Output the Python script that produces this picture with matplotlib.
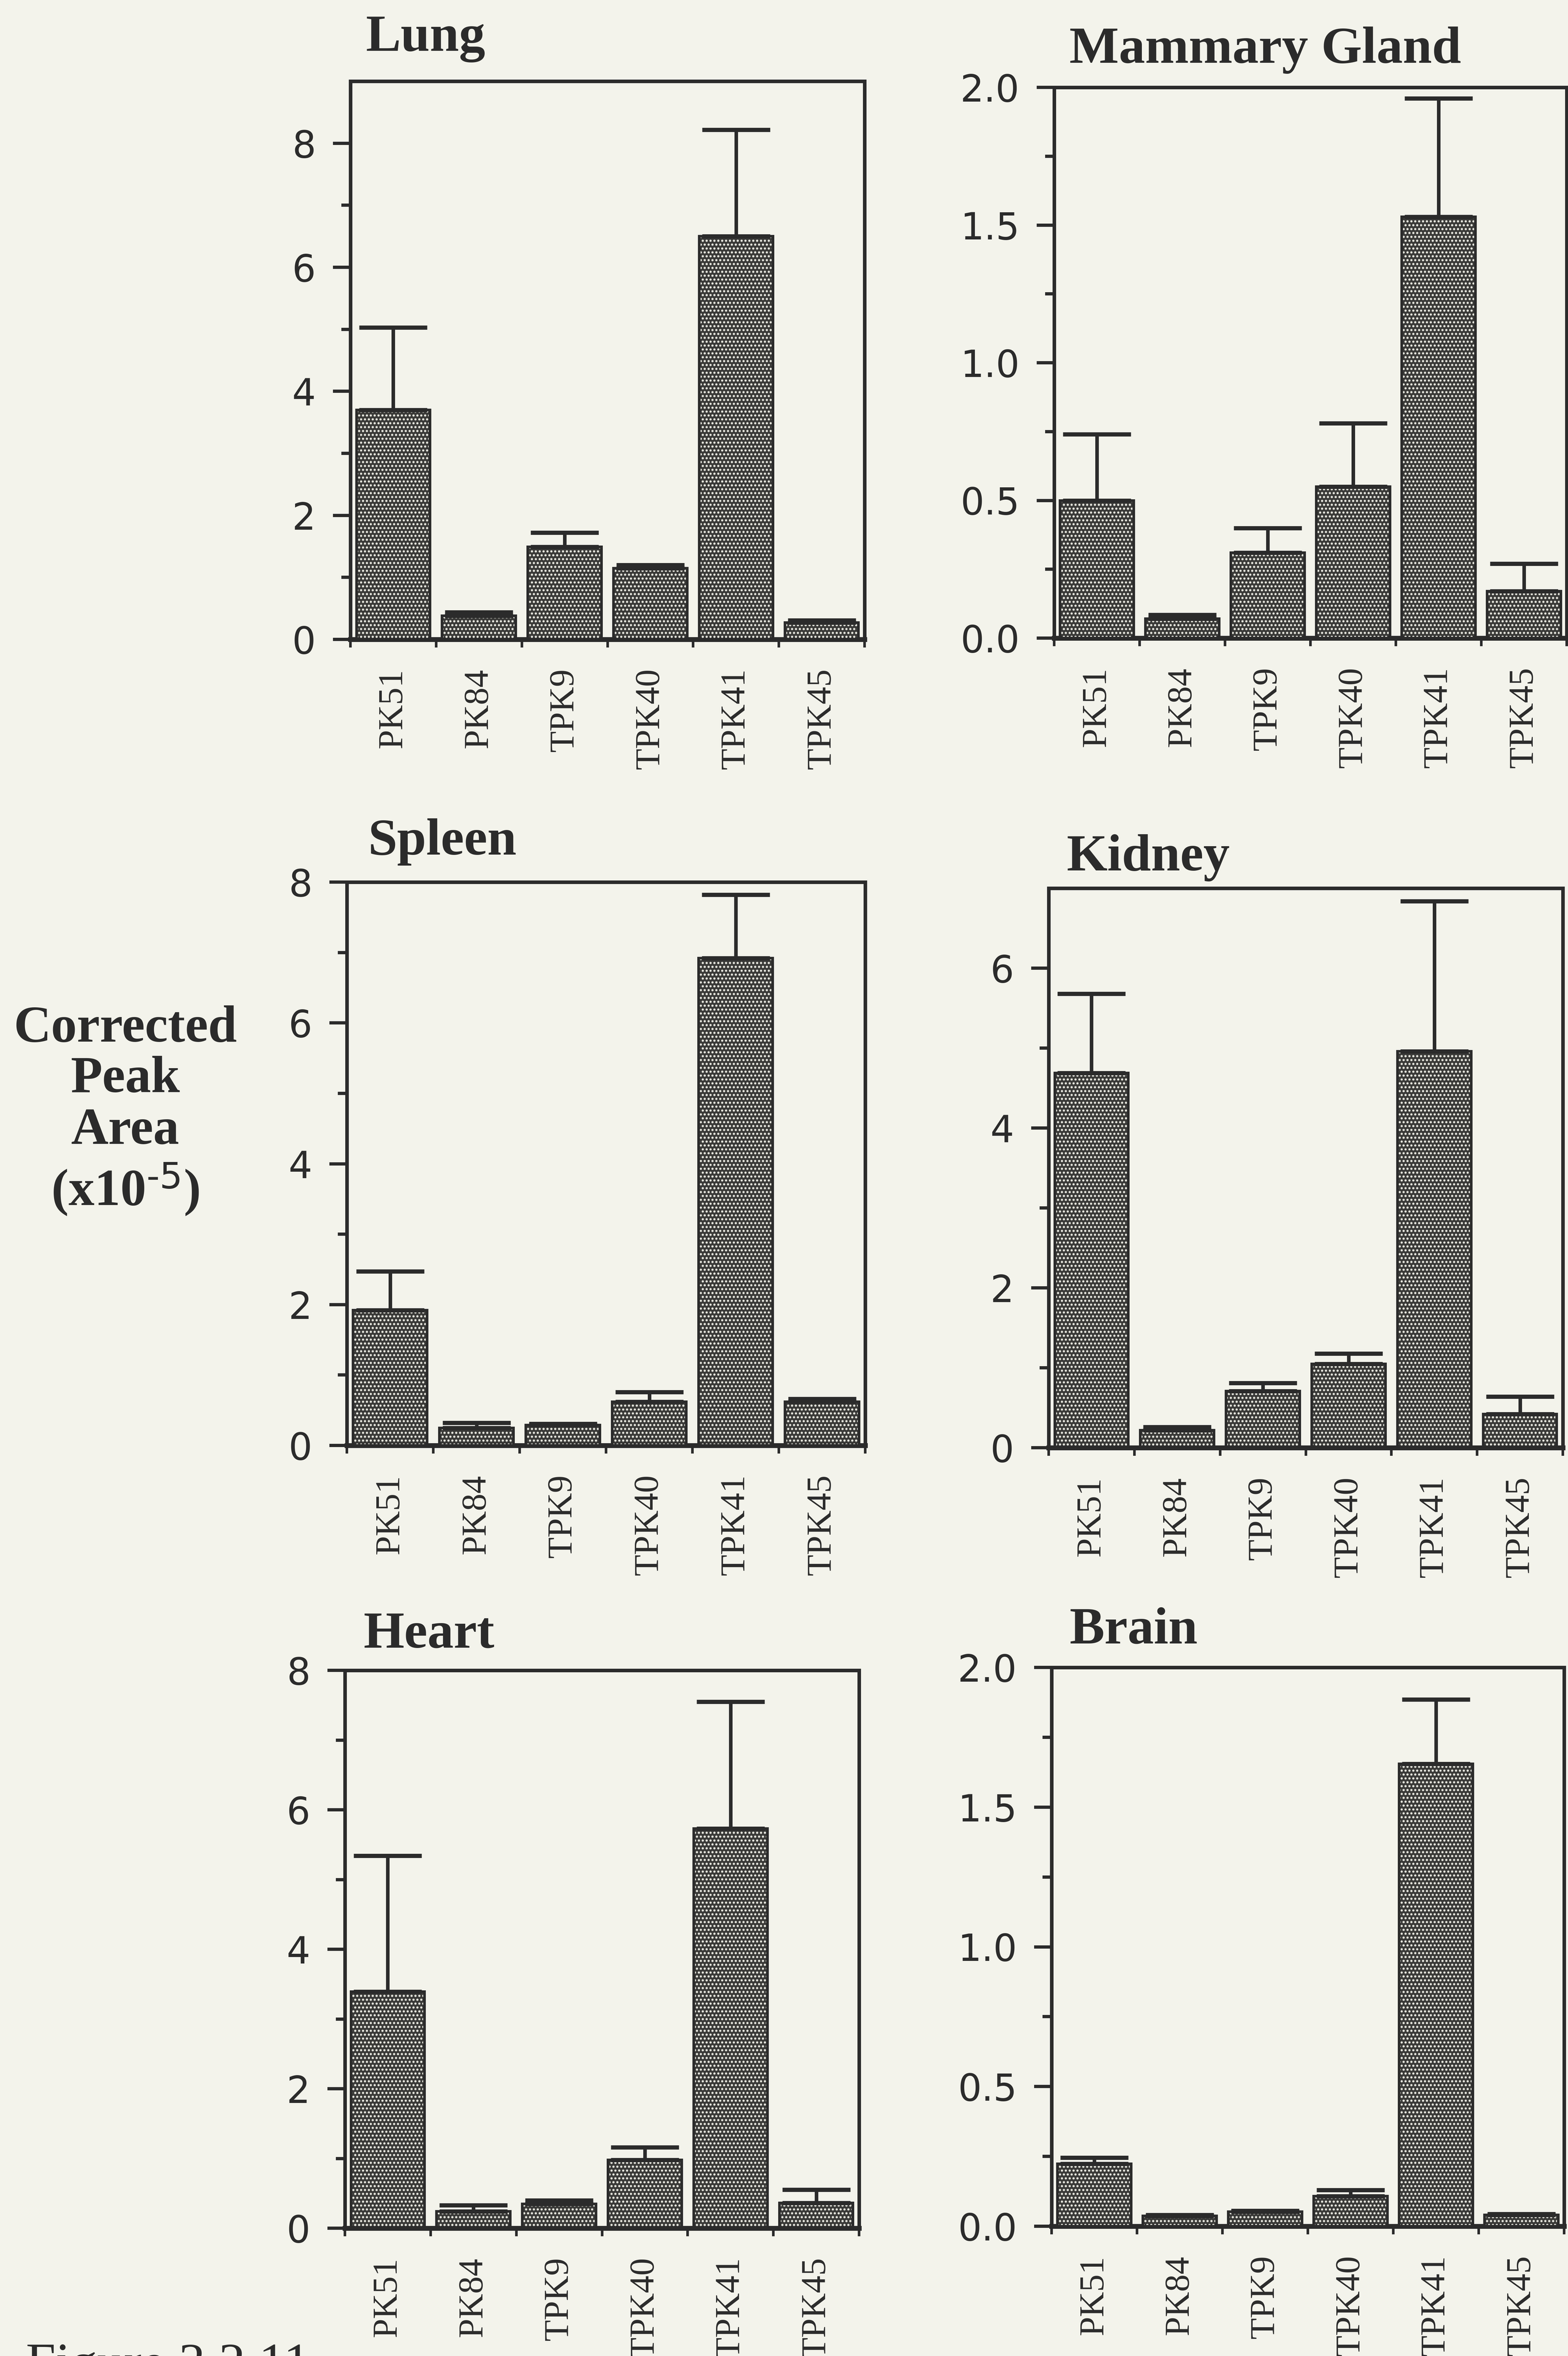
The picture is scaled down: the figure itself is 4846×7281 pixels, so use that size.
import numpy as np
import matplotlib
matplotlib.use("Agg")
import matplotlib.pyplot as plt

# ---- data: corrected peak area (x10^-5), mean and upper error per cell line ----
categories = ["PK51", "PK84", "TPK9", "TPK40", "TPK41", "TPK45"]

lung_mean = [3.70, 0.38, 1.49, 1.15, 6.50, 0.27]
lung_err = [1.33, 0.06, 0.23, 0.05, 1.72, 0.04]

mammary_mean = [0.50, 0.07, 0.31, 0.55, 1.53, 0.17]
mammary_err = [0.24, 0.015, 0.09, 0.23, 0.43, 0.10]

spleen_mean = [1.92, 0.25, 0.29, 0.62, 6.92, 0.62]
spleen_err = [0.55, 0.07, 0.02, 0.14, 0.90, 0.04]

kidney_mean = [4.69, 0.22, 0.71, 1.05, 4.96, 0.42]
kidney_err = [0.99, 0.04, 0.10, 0.13, 1.88, 0.22]

heart_mean = [3.39, 0.24, 0.35, 0.98, 5.73, 0.36]
heart_err = [1.95, 0.09, 0.05, 0.18, 1.82, 0.19]

brain_mean = [0.224, 0.037, 0.052, 0.108, 1.655, 0.040]
brain_err = [0.021, 0.004, 0.004, 0.022, 0.230, 0.004]

panel_titles = ["Lung", "Mammary Gland", "Spleen", "Kidney", "Heart", "Brain"]
y_max = [9, 2, 8, 7, 8, 2]
major_step = [2, 0.5, 2, 2, 2, 0.5]
minor_step = [1, 0.25, 1, 1, 1, 0.25]
y_fmt = ["{:.0f}", "{:.1f}", "{:.0f}", "{:.0f}", "{:.0f}", "{:.1f}"]

means = [lung_mean, mammary_mean, spleen_mean, kidney_mean, heart_mean, brain_mean]
errs = [lung_err, mammary_err, spleen_err, kidney_err, heart_err, brain_err]

# ---- styling ----
W, H, DPI = 4846, 7281, 72
PAPER = "#f3f3eb"
INK = "#2b2b2b"
BAR_DARK = "#3a3a38"
DOT = "#e4e4dc"
SERIF = ["Liberation Serif", "DejaVu Serif"]
SANS = ["DejaVu Sans"]

plt.rcParams["hatch.linewidth"] = 4.5

fig = plt.figure(figsize=(W / DPI, H / DPI), dpi=DPI, facecolor=PAPER)

# axes boxes in pixels: (left, right, top, bottom)
boxes = [
    (1083, 2672, 251, 1976),
    (3258, 4842, 270, 1972),
    (1072, 2674, 2726, 4467),
    (3241, 4830, 2745, 4474),
    (1066, 2655, 5162, 6886),
    (3250, 4834, 5153, 6880),
]
# title anchor (left x, baseline y) in pixels
title_pos = [
    (1130, 157),
    (3305, 194),
    (1137, 2641),
    (3296, 2690),
    (1123, 5093),
    (3305, 5079),
]

x = np.arange(len(categories))
bar_w = 0.86

for i in range(6):
    l, r, t, b = boxes[i]
    ax = fig.add_axes([l / W, 1 - b / H, (r - l) / W, (b - t) / H])
    ax.set_facecolor(PAPER)
    m = np.array(means[i])
    e = np.array(errs[i])

    ax.bar(x, m, width=bar_w, color=BAR_DARK, edgecolor="none", linewidth=0, zorder=2)
    ax.bar(x, m, width=bar_w, facecolor="none", edgecolor=DOT, hatch=".",
           linewidth=0, zorder=3)
    ax.bar(x, m, width=bar_w, facecolor="none", edgecolor=INK, linewidth=8, zorder=4)
    ax.errorbar(x, m, yerr=[np.zeros_like(e), e], fmt="none", ecolor=INK,
                elinewidth=11, capsize=105, capthick=13, zorder=5)

    ax.set_xlim(-0.5, 5.5)
    ax.set_ylim(0, y_max[i])

    majors = np.arange(0, y_max[i] + 1e-9, major_step[i])
    minors = np.arange(minor_step[i], y_max[i] - 1e-9, 2 * minor_step[i])
    ax.set_yticks(majors)
    ax.set_yticklabels([y_fmt[i].format(v) for v in majors])
    ax.set_yticks(minors, minor=True)
    ax.tick_params(axis="y", which="major", direction="out", length=54, width=10,
                   color=INK, pad=53, labelsize=115, labelcolor=INK)
    ax.tick_params(axis="y", which="minor", direction="out", length=28, width=10,
                   color=INK)
    for lab in ax.get_yticklabels():
        lab.set_fontfamily(SANS)

    ax.set_xticks(x)
    ax.set_xticklabels(categories, rotation=90, fontsize=108, fontfamily=SERIF,
                       color=INK)
    ax.set_xticks(np.arange(-0.5, 6.0, 1.0), minor=True)
    ax.tick_params(axis="x", which="major", length=0, pad=90)
    ax.tick_params(axis="x", which="minor", direction="out", length=25, width=8,
                   color=INK)

    for side in ["left", "right", "top"]:
        ax.spines[side].set_linewidth(11)
        ax.spines[side].set_color(INK)
    ax.spines["bottom"].set_linewidth(15)
    ax.spines["bottom"].set_color(INK)

    tx, ty = title_pos[i]
    fig.text(tx / W, 1 - ty / H, panel_titles[i], fontsize=162, fontweight="bold",
             fontfamily=SERIF, color=INK, ha="left", va="baseline")

# shared y-axis label
plt.rcParams["mathtext.default"] = "regular"
ylabel_lines = ["Corrected", "Peak", "Area", r"(x10$^{\text{-5}}$)"]
ylabel_base = [3219, 3375, 3536, 3725]
for txt, yb in zip(ylabel_lines, ylabel_base):
    fig.text(387 / W, 1 - yb / H, txt, fontsize=160, fontweight="bold",
             fontfamily=SERIF, color=INK, ha="center", va="baseline")

# figure caption along the lower edge
fig.text(80 / W, 1 - 7355 / H, "Figure 3.2.11", fontsize=165, fontfamily=SERIF,
         color=INK, ha="left", va="baseline")

fig.savefig("out.png", dpi=DPI, facecolor=PAPER)
